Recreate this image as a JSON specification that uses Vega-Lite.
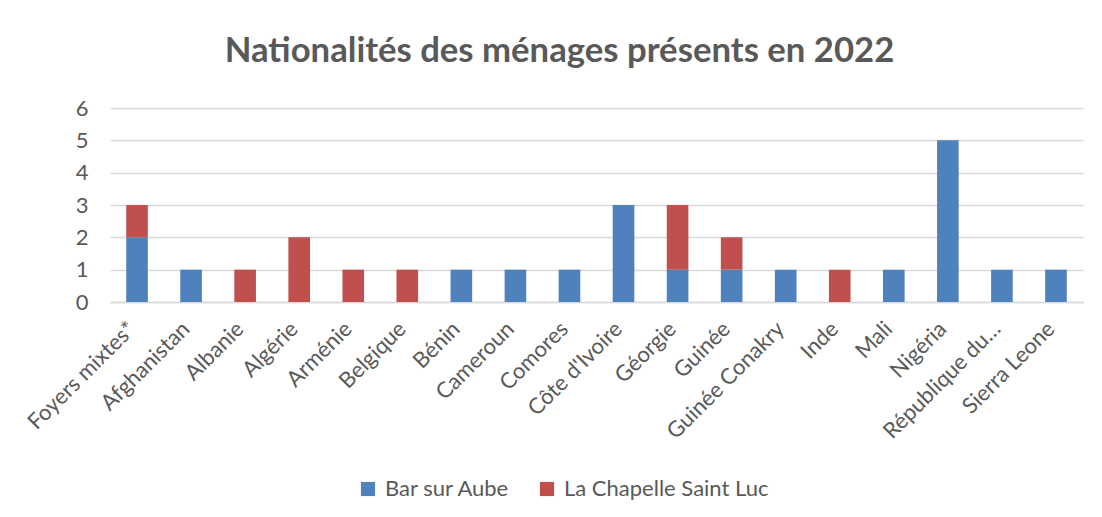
{
  "$schema": "https://vega.github.io/schema/vega-lite/v6.json",
  "width": 973,
  "height": 194,
  "autosize": {"type": "none"},
  "padding": {"left": 110, "top": 108, "right": 19, "bottom": 215},
  "background": "white",
  "title": {
    "text": "Nationalités des ménages présents en 2022",
    "font": "Lato",
    "fontSize": 34.7,
    "fontWeight": "bold",
    "color": "#595959",
    "anchor": "middle",
    "dx": -37,
    "offset": 27
  },
  "data": {
    "values": [
      {"pays": "Foyers mixtes*", "ville": "Bar sur Aube", "n": 2},
      {"pays": "Foyers mixtes*", "ville": "La Chapelle Saint Luc", "n": 1},
      {"pays": "Afghanistan", "ville": "Bar sur Aube", "n": 1},
      {"pays": "Albanie", "ville": "La Chapelle Saint Luc", "n": 1},
      {"pays": "Algérie", "ville": "La Chapelle Saint Luc", "n": 2},
      {"pays": "Arménie", "ville": "La Chapelle Saint Luc", "n": 1},
      {"pays": "Belgique", "ville": "La Chapelle Saint Luc", "n": 1},
      {"pays": "Bénin", "ville": "Bar sur Aube", "n": 1},
      {"pays": "Cameroun", "ville": "Bar sur Aube", "n": 1},
      {"pays": "Comores", "ville": "Bar sur Aube", "n": 1},
      {"pays": "Côte d'Ivoire", "ville": "Bar sur Aube", "n": 3},
      {"pays": "Géorgie", "ville": "Bar sur Aube", "n": 1},
      {"pays": "Géorgie", "ville": "La Chapelle Saint Luc", "n": 2},
      {"pays": "Guinée", "ville": "Bar sur Aube", "n": 1},
      {"pays": "Guinée", "ville": "La Chapelle Saint Luc", "n": 1},
      {"pays": "Guinée Conakry", "ville": "Bar sur Aube", "n": 1},
      {"pays": "Inde", "ville": "La Chapelle Saint Luc", "n": 1},
      {"pays": "Mali", "ville": "Bar sur Aube", "n": 1},
      {"pays": "Nigéria", "ville": "Bar sur Aube", "n": 5},
      {"pays": "République du…", "ville": "Bar sur Aube", "n": 1},
      {"pays": "Sierra Leone", "ville": "Bar sur Aube", "n": 1}
    ]
  },
  "mark": {"type": "bar"},
  "encoding": {
    "x": {
      "field": "pays",
      "type": "nominal",
      "sort": null,
      "title": null,
      "scale": {"paddingInner": 0.6, "paddingOuter": 0.3},
      "axis": {
        "labelAngle": -45,
        "labelAlign": "right",
        "labelBaseline": "middle",
        "labelPadding": 23,
        "labelOffset": -5,
        "labelFont": "Lato",
        "labelFontSize": 22,
        "labelColor": "#595959",
        "ticks": false,
        "domainColor": "#D9D9D9",
        "domainWidth": 1.5,
        "labelLimit": 300
      }
    },
    "y": {
      "field": "n",
      "type": "quantitative",
      "aggregate": "sum",
      "stack": "zero",
      "title": null,
      "scale": {"domain": [0, 6], "nice": false},
      "axis": {
        "values": [0, 1, 2, 3, 4, 5, 6],
        "grid": true,
        "gridColor": "#D9D9D9",
        "gridWidth": 1.5,
        "domain": false,
        "ticks": false,
        "labelFont": "Lato",
        "labelFontSize": 22,
        "labelColor": "#595959",
        "labelPadding": 22
      }
    },
    "order": {"field": "ville", "sort": "ascending"},
    "color": {
      "field": "ville",
      "type": "nominal",
      "title": null,
      "scale": {
        "domain": ["Bar sur Aube", "La Chapelle Saint Luc"],
        "range": ["#4F81BD", "#C0504D"]
      },
      "legend": {
        "orient": "none",
        "direction": "horizontal",
        "legendX": 247,
        "legendY": 370,
        "symbolType": "square",
        "symbolSize": 200,
        "symbolStrokeWidth": 0,
        "labelFont": "Lato",
        "labelFontSize": 22,
        "labelColor": "#595959",
        "labelOffset": 6,
        "columnPadding": 26,
        "labelLimit": 400
      }
    }
  },
  "config": {
    "view": {"stroke": null}
  }
}
